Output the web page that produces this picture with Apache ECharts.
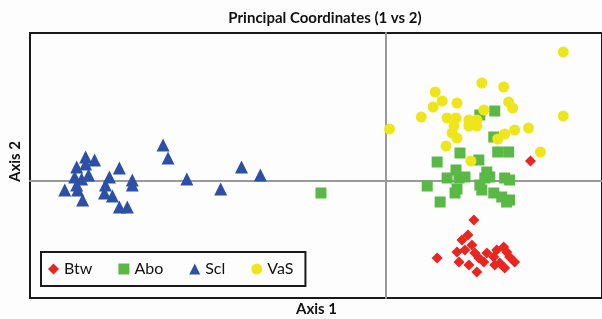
<!DOCTYPE html>
<html>
<head>
<meta charset="utf-8">
<script src="https://cdn.jsdelivr.net/npm/echarts@6/dist/echarts.min.js"></script>
<style>
  html, body { margin: 0; padding: 0; background: #fdfdfe; }
  #chart { width: 602px; height: 319px; }
</style>
</head>
<body>
<div id="chart"></div>
<script>
// PCoA scores: [axis 1, axis 2]
var seriesNames = ['Btw', 'Abo', 'Scl', 'VaS'];

var btw = [
  [1.46, 0.20], [0.89, -0.39], [0.83, -0.54], [0.77, -0.59], [0.87, -0.64],
  [0.72, -0.71], [0.80, -0.69], [0.90, -0.72], [0.52, -0.77], [0.74, -0.81],
  [0.84, -0.84], [0.94, -0.77], [0.92, -0.91], [1.02, -0.72], [1.09, -0.76],
  [1.19, -0.66], [1.22, -0.71], [1.12, -0.69], [1.25, -0.76], [1.30, -0.81],
  [1.15, -0.82], [1.20, -0.87], [1.10, -0.84], [0.99, -0.81]
];

var abo = [
  [-0.65, -0.12], [0.95, 0.66], [1.10, 0.70], [1.09, 0.44], [1.13, 0.29],
  [1.24, 0.29], [0.75, 0.28], [0.52, 0.19], [0.94, 0.21], [0.71, 0.11],
  [0.62, 0.03], [0.74, 0.03], [0.80, 0.04], [1.02, 0.09], [1.00, 0.03],
  [1.05, 0.04], [1.20, 0.03], [1.25, 0.01], [0.42, -0.05], [0.72, -0.08],
  [0.70, -0.12], [0.95, -0.04], [0.97, -0.09], [1.09, -0.12], [1.17, -0.16],
  [1.25, -0.19], [0.55, -0.21], [1.22, -0.21]
];

var scl = [
  [-2.24, 0.36], [-2.19, 0.23], [-3.02, 0.24], [-2.93, 0.21], [-3.11, 0.14],
  [-3.02, 0.17], [-2.68, 0.13], [-3.13, 0.04], [-2.99, 0.06], [-3.06, 0.02],
  [-2.78, 0.04], [-3.23, -0.09], [-3.11, -0.04], [-3.10, -0.09], [-2.82, -0.04],
  [-2.55, 0.01], [-2.55, -0.04], [-2.83, -0.12], [-2.75, -0.15], [-3.05, -0.19],
  [-2.68, -0.26], [-2.60, -0.26], [-2.00, 0.02], [-1.66, -0.08], [-1.45, 0.14],
  [-1.26, 0.06]
];

var vas = [
  [1.79, 1.29], [0.97, 0.98], [1.19, 0.94], [0.50, 0.89], [0.57, 0.80],
  [0.48, 0.74], [0.72, 0.78], [0.36, 0.64], [0.62, 0.63], [0.71, 0.63],
  [0.99, 0.71], [1.24, 0.79], [1.28, 0.73], [0.84, 0.61], [0.92, 0.61],
  [0.84, 0.55], [0.92, 0.55], [0.69, 0.55], [0.67, 0.48], [0.72, 0.43],
  [0.04, 0.52], [1.79, 0.65], [1.13, 0.42], [1.20, 0.47], [1.30, 0.51],
  [1.44, 0.53], [0.61, 0.35], [1.56, 0.29], [0.86, 0.20]
];

var chart = echarts.init(document.getElementById('chart'), null, { renderer: 'canvas' });

var option = {
  backgroundColor: '#fdfdfe',
  animation: false,
  title: {
    text: 'Principal Coordinates (1 vs 2)',
    left: 320,
    textAlign: 'center',
    top: 6,
    textStyle: { fontFamily: 'Lato', fontWeight: 'bold', fontSize: 15, color: '#111' }
  },
  grid: {
    left: 30, right: -4, top: 33, bottom: 21,
    show: true,
    backgroundColor: '#fdfdfe',
    borderColor: '#1a1a1a',
    borderWidth: 2
  },
  xAxis: {
    type: 'value',
    min: -3.58, max: 2.18,
    axisLine: { onZero: true, lineStyle: { color: '#9a9a9a', width: 2 } },
    axisTick: { show: false },
    axisLabel: { show: false },
    splitLine: { show: false }
  },
  yAxis: {
    type: 'value',
    min: -1.17, max: 1.48,
    axisLine: { onZero: true, lineStyle: { color: '#9a9a9a', width: 2 } },
    axisTick: { show: false },
    axisLabel: { show: false },
    splitLine: { show: false }
  },
  legend: {
    left: 41, top: 252,
    orient: 'horizontal',
    data: seriesNames,
    padding: [9, 12, 9, 7],
    itemGap: 26,
    itemWidth: 11, itemHeight: 11,
    itemTextGap: 6,
    borderColor: '#1a1a1a', borderWidth: 2, borderRadius: 0,
    backgroundColor: '#fdfdfe',
    textStyle: { fontFamily: 'Lato', fontSize: 16, color: '#111' }
  },
  graphic: [
    {
      type: 'text', left: 296, top: 302,
      style: { text: 'Axis 1', font: 'bold 15px Lato', fill: '#111' }
    },
    {
      type: 'text', x: 8, y: 182, rotation: Math.PI / 2,
      style: { text: 'Axis 2', font: 'bold 15px Lato', fill: '#111' }
    }
  ],
  series: [
    { name: 'Btw', type: 'scatter', symbol: 'diamond', symbolSize: 11, data: btw, itemStyle: { color: '#e8261f', opacity: 1 } },
    { name: 'Abo', type: 'scatter', symbol: 'rect', symbolSize: 11, data: abo, itemStyle: { color: '#5ab847', opacity: 1 } },
    { name: 'Scl', type: 'scatter', symbol: 'triangle', symbolSize: 13, data: scl, itemStyle: { color: '#2c50a6', opacity: 1 } },
    { name: 'VaS', type: 'scatter', symbol: 'circle', symbolSize: 11, data: vas, itemStyle: { color: '#efe51b', opacity: 1 } }
  ]
};

chart.setOption(option);
</script>
</body>
</html>
